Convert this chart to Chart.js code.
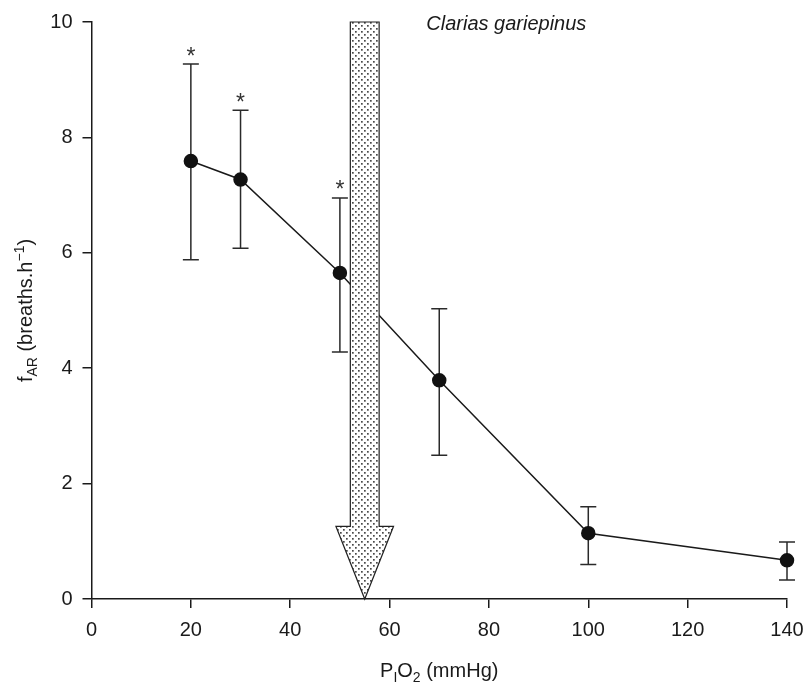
<!DOCTYPE html>
<html>
<head>
<meta charset="utf-8">
<script src="https://cdn.jsdelivr.net/npm/chart.js@4.4.1/dist/chart.umd.min.js"></script>
<style>
  body { margin: 0; background: #fff; }
  #wrap { width: 805px; height: 685px; position: relative; }
</style>
</head>
<body>
<div id="wrap"><canvas id="c"></canvas></div>
<script>
// PIO2 (mmHg) and air-breathing frequency
const po2 = [20, 30, 50, 70, 100, 140];
const fAR = [7.59, 7.27, 5.65, 3.79, 1.14, 0.67];
const errHigh = [9.27, 8.47, 6.95, 5.03, 1.6, 0.99];
const errLow = [5.88, 6.08, 4.28, 2.49, 0.6, 0.33];
const signif = [true, true, true, false, false, false];

const xTicks = [0, 20, 40, 60, 80, 100, 120, 140];
const yTicks = [0, 2, 4, 6, 8, 10];

// arrow (in data units)
const arrowX = 55;
const arrowShaftHalf = 2.9;
const arrowHeadHalf = 5.8;
const arrowTop = 10;
const arrowNeck = 1.26;
const arrowTip = 0;

const titleText = "Clarias gariepinus";
const ink = "#1a1a1a";
const font = "'Liberation Sans', Arial, sans-serif";

// dotted fill for the arrow
const makePattern = (ctx) => {
    const p = document.createElement("canvas");
    p.width = 6;
    p.height = 6;
    const pc = p.getContext("2d");
    pc.fillStyle = "#fff";
    pc.fillRect(0, 0, 6, 6);
    pc.fillStyle = "#4a4a4a";
    pc.fillRect(1, 1, 1.7, 1.7);
    pc.fillRect(4, 4, 1.7, 1.7);
    return ctx.createPattern(p, "repeat");
};

const errorBars = {
    id: "errorBars",
    beforeDatasetsDraw(chart) {
        const { ctx, scales: { x, y } } = chart;
        ctx.save();
        ctx.strokeStyle = "#2a2a2a";
        ctx.lineWidth = 1.5;
        po2.forEach((v, i) => {
            const px = x.getPixelForValue(v);
            const hi = y.getPixelForValue(errHigh[i]);
            const lo = y.getPixelForValue(errLow[i]);
            ctx.beginPath();
            ctx.moveTo(px, hi);
            ctx.lineTo(px, lo);
            ctx.moveTo(px - 8, hi);
            ctx.lineTo(px + 8, hi);
            ctx.moveTo(px - 8, lo);
            ctx.lineTo(px + 8, lo);
            ctx.stroke();
            if (signif[i]) {
                ctx.fillStyle = "#333";
                ctx.font = "23px " + font;
                ctx.textAlign = "center";
                ctx.textBaseline = "alphabetic";
                ctx.fillText("*", px, hi - 0.5);
            }
        });
        ctx.restore();
    },
};

const arrowAndLabels = {
    id: "arrowAndLabels",
    afterDatasetsDraw(chart) {
        const { ctx, scales: { x, y } } = chart;
        ctx.save();
        // arrow
        const sl = x.getPixelForValue(arrowX - arrowShaftHalf);
        const sr = x.getPixelForValue(arrowX + arrowShaftHalf);
        const hl = x.getPixelForValue(arrowX - arrowHeadHalf);
        const hr = x.getPixelForValue(arrowX + arrowHeadHalf);
        const cx = x.getPixelForValue(arrowX);
        const top = y.getPixelForValue(arrowTop);
        const neck = y.getPixelForValue(arrowNeck);
        const tip = y.getPixelForValue(arrowTip);
        ctx.beginPath();
        ctx.moveTo(sl, top);
        ctx.lineTo(sr, top);
        ctx.lineTo(sr, neck);
        ctx.lineTo(hr, neck);
        ctx.lineTo(cx, tip);
        ctx.lineTo(hl, neck);
        ctx.lineTo(sl, neck);
        ctx.closePath();
        ctx.fillStyle = makePattern(ctx);
        ctx.fill();
        ctx.strokeStyle = "#222";
        ctx.lineWidth = 1.2;
        ctx.stroke();

        // species name
        ctx.fillStyle = ink;
        ctx.font = "italic 20px " + font;
        ctx.textAlign = "center";
        ctx.textBaseline = "alphabetic";
        ctx.fillText(titleText, x.getPixelForValue(83.5), 29.5);
        ctx.restore();
    },
    afterDraw(chart) {
        const { ctx, chartArea } = chart;
        ctx.save();
        ctx.fillStyle = ink;
        ctx.textBaseline = "alphabetic";
        ctx.textAlign = "left";

        // pieces: [text, size, shift]
        const drawRun = (parts, cx, cy) => {
            let total = 0;
            parts.forEach((p) => {
                ctx.font = p[1] + "px " + font;
                total += ctx.measureText(p[0]).width;
            });
            let pos = cx - total / 2;
            parts.forEach((p) => {
                ctx.font = p[1] + "px " + font;
                ctx.fillText(p[0], pos, cy + p[2]);
                pos += ctx.measureText(p[0]).width;
            });
        };

        // x title
        const xc = (chartArea.left + chartArea.right) / 2;
        drawRun([["P", 20, 0], ["I", 14, 5], ["O", 20, 0], ["2", 14, 5], [" (mmHg)", 20, 0]], xc, 677);

        // y title
        ctx.translate(32, (chartArea.top + chartArea.bottom) / 2);
        ctx.rotate(-Math.PI / 2);
        drawRun([["f", 20, 0], ["AR", 14, 5], [" (breaths.h", 20, 0], ["\u22121", 14, -8], [")", 20, 0]], 0, 0);
        ctx.restore();
    },
};

new Chart(document.getElementById("c"), {
    type: "line",
    data: {
        datasets: [
            {
                data: po2.map((v, i) => ({ x: v, y: fAR[i] })),
                borderColor: ink,
                borderWidth: 1.5,
                backgroundColor: "#111",
                pointBackgroundColor: "#111",
                pointBorderColor: "#111",
                pointRadius: 6.5,
                pointHoverRadius: 6.5,
                tension: 0,
                clip: false,
            },
        ],
    },
    options: {
        responsive: true,
        maintainAspectRatio: false,
        animation: false,
        events: [],
        layout: { padding: { left: 0, top: 21, right: 18, bottom: 0 } },
        plugins: {
            legend: { display: false },
            tooltip: { enabled: false },
        },
        scales: {
            x: {
                type: "linear",
                min: 0,
                max: 140,
                afterFit: (s) => { s.height = 86; s.paddingRight = 0; },
                afterBuildTicks: (s) => { s.ticks = xTicks.map((v) => ({ value: v })); },
                grid: { drawOnChartArea: false, tickLength: 9, color: ink, lineWidth: 1.5 },
                border: { color: ink, width: 1.5 },
                ticks: { color: ink, font: { family: font, size: 20 }, padding: 10, maxRotation: 0 },
            },
            y: {
                min: 0,
                max: 10,
                afterFit: (s) => { s.width = 91.5; },
                afterBuildTicks: (s) => { s.ticks = yTicks.map((v) => ({ value: v })); },
                grid: { drawOnChartArea: false, tickLength: 9, color: ink, lineWidth: 1.5 },
                border: { color: ink, width: 1.5 },
                ticks: { color: ink, font: { family: font, size: 20 }, padding: 10 },
            },
        },
    },
    plugins: [errorBars, arrowAndLabels],
});
</script>
</body>
</html>
